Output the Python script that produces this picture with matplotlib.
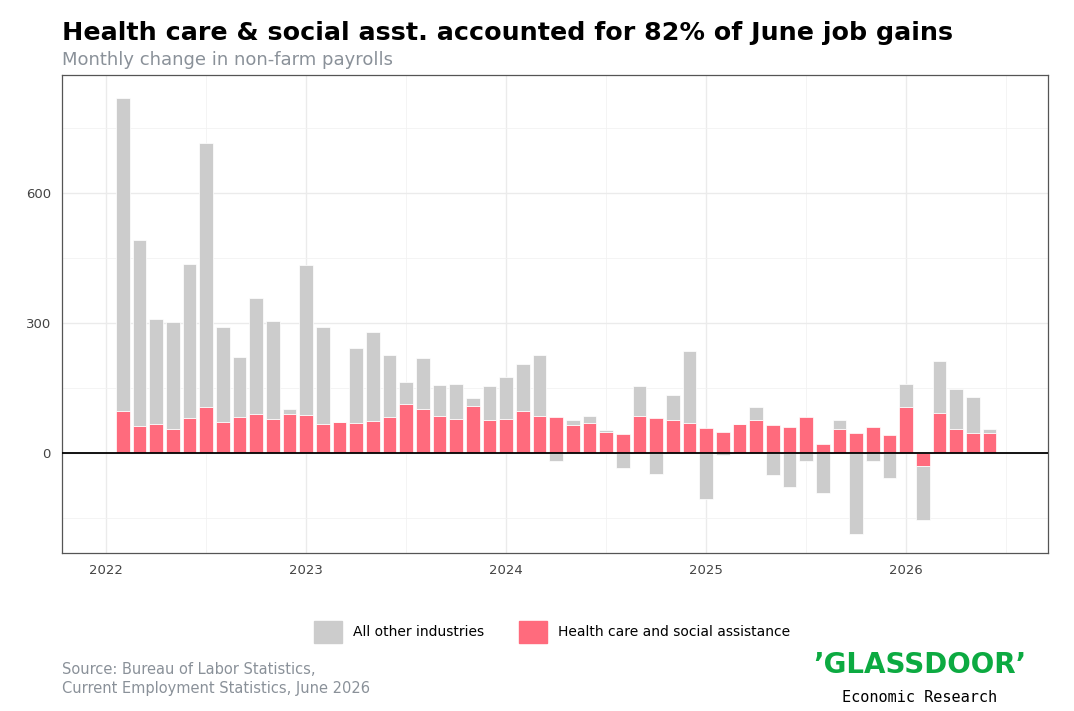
import matplotlib.pyplot as plt
from matplotlib.patches import Patch

# months since Jan 2022 (1 = Feb 2022 ... 53 = Jun 2026)
months = list(range(1, 54))
health = [97, 62, 67, 55, 81, 106, 72, 83, 90, 78, 90,
          88, 67, 72, 69, 74, 83, 113, 102, 85, 78, 108, 76,
          78, 97, 85, 82, 65, 68, 48, 44, 86, 81, 76, 69,
          58, 48, 66, 75, 64, 60, 82, 21, 54, 47, 59, 41,
          107, -31, 92, 56, 45, 46]
other = [722, 430, 242, 247, 355, 609, 219, 139, 268, 227, 12,
         346, 224, 0, 173, 205, 143, 51, 117, 72, 81, 19, 79,
         97, 108, 142, -18, 12, 18, 5, -35, 68, -48, 58, 166,
         -107, -5, 0, 32, -52, -79, -18, -92, 21, -187, -19, -58,
         52, -124, 121, 91, 83, 10]
year_ticks = [0, 12, 24, 36, 48]
year_labels = ['2022', '2023', '2024', '2025', '2026']

PINK = '#ff6b7d'
GREY = '#cccccc'

fig = plt.figure(figsize=(10.74, 7.11), dpi=100)
ax = fig.add_axes([62/1074, 1 - 553/711, (1048-62)/1074, (553-75)/711])

# stacked like ggplot: positives stack up, negatives stack down
bot_pos = [max(h, 0) for h in health]
bot_neg = [min(h, 0) for h in health]
other_bottom = [bp if o >= 0 else bn for o, bp, bn in zip(other, bot_pos, bot_neg)]
ax.bar(months, health, width=0.82, color=PINK, edgecolor='white', lw=0.5, zorder=3)
ax.bar(months, other, bottom=other_bottom, width=0.82, color=GREY, edgecolor='white', lw=0.5, zorder=3)
ax.axhline(0, color='black', lw=1.3, zorder=4)

ax.set_xlim(-2.65, 56.5)
ax.set_ylim(-231, 872)
ax.set_xticks(year_ticks)
ax.set_xticklabels(year_labels)
ax.set_xticks([6, 18, 30, 42, 54], minor=True)
ax.set_yticks([0, 300, 600])
ax.set_yticks([-150, 150, 450, 750], minor=True)
ax.grid(True, which='major', color='#ebebeb', lw=1.0, zorder=0)
ax.grid(True, which='minor', color='#f2f2f2', lw=0.6, zorder=0)
ax.tick_params(which='both', length=0, labelsize=9.5, colors='#444444', pad=8)
for s in ax.spines.values():
    s.set_color('#555555')
    s.set_linewidth(0.9)

fig.text(62/1074, 1 - 33/711, 'Health care & social asst. accounted for 82% of June job gains',
         fontsize=18.3, fontweight='bold', va='center', color='black')
fig.text(62/1074, 1 - 60/711, 'Monthly change in non-farm payrolls',
         fontsize=13, va='center', color='#8a9199')

handles = [Patch(color=GREY, label='All other industries'),
           Patch(color=PINK, label='Health care and social assistance')]
fig.legend(handles=handles, loc='center', bbox_to_anchor=(552/1074, 1 - 632/711),
           ncol=2, frameon=False, fontsize=10, handlelength=2.0, handleheight=2.0,
           columnspacing=2.5)

fig.text(62/1074, 1 - 679/711, 'Source: Bureau of Labor Statistics,\nCurrent Employment Statistics, June 2026',
         fontsize=10.5, color='#8a9199', va='center', linespacing=1.3)
fig.text(920/1074, 1 - 665/711, "\u2019GLASSDOOR\u2019", fontsize=20, fontweight='bold',
         color='#0caa41', ha='center', va='center')
fig.text(920/1074, 1 - 697/711, 'Economic Research', fontsize=11, family='DejaVu Sans Mono',
         ha='center', va='center', color='black')

fig.savefig('out.png', dpi=100)
